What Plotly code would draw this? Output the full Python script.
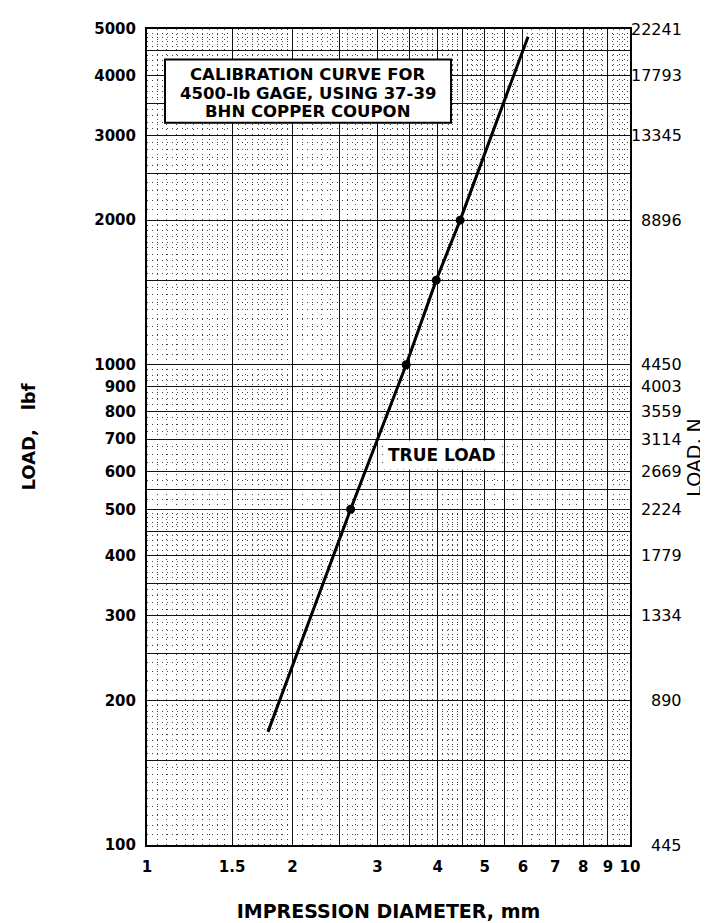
import numpy as np
import plotly.graph_objects as go

# ---- data ----
line_diameter = [1.78, 2.64, 3.44, 3.97, 4.45, 6.15]
line_load = [172, 500, 1000, 1500, 2000, 4820]
point_diameter = [2.64, 3.44, 3.97, 4.45]
point_load = [500, 1000, 1500, 2000]

x_tick_vals = [1, 1.5, 2, 2.5, 3, 3.5, 4, 4.5, 5, 5.5, 6, 7, 8, 9, 10]
x_tick_text = ["1", "1.5", "2", "", "3", "", "4", "", "5", "", "6", "7", "8", "9", "10"]
y_tick_vals = [100, 150, 200, 250, 300, 350, 400, 450, 500, 550, 600, 700, 800, 900,
               1000, 1500, 2000, 2500, 3000, 3500, 4000, 4500, 5000]
y_tick_text = ["100", "", "200", "", "300", "", "400", "", "500", "", "600", "700", "800", "900",
               "1000", "", "2000", "", "3000", "", "4000", "", "5000"]
n_tick_vals = [100, 200, 300, 400, 500, 600, 700, 800, 900, 1000, 2000, 3000, 4000, 5000]
n_tick_text = ["445", "890", "1334", "1779", "2224", "2669", "3114", "3559", "4003", "4450",
               "8896", "13345", "17793", "22241"]

title_lines = ["CALIBRATION CURVE FOR", "4500-lb GAGE, USING 37-39", "BHN COPPER COUPON"]

# ---- fine graph-paper grid positions ----
x_minor = sorted(set(np.round(np.concatenate([np.arange(1, 2, 0.05),
                                               np.arange(2, 5, 0.1),
                                               np.arange(5, 10, 0.25)]), 3)))
y_minor = sorted(set(np.round(np.concatenate([np.arange(100, 200, 5),
                                               np.arange(200, 500, 10),
                                               np.arange(500, 1000, 25),
                                               np.arange(1000, 2000, 50),
                                               np.arange(2000, 5000, 100)]), 3)))

BOLD = "DejaVu Sans"
fig = go.Figure()
fig.add_trace(go.Scatter(x=line_diameter, y=line_load, mode="lines",
                         line=dict(color="black", width=3), showlegend=False,
                         hoverinfo="skip"))
fig.add_trace(go.Scatter(x=point_diameter, y=point_load, mode="markers",
                         marker=dict(color="black", size=9), showlegend=False))

grid_major = dict(showgrid=True, gridcolor="#111111", gridwidth=1.4)
minor_common = dict(showgrid=True, gridcolor="#444444", gridwidth=1, griddash="1px,4px", ticks="")

fig.update_xaxes(type="log", range=[0, 1], tickmode="array", tickvals=x_tick_vals,
                 ticktext=x_tick_text, ticks="", ticklabelstandoff=7,
                 tickfont=dict(family=BOLD, size=15, color="black", weight="bold"),
                 showline=True, linecolor="black", linewidth=2, mirror=True,
                 zeroline=False, minor=dict(tickvals=x_minor, **minor_common),
                 title=dict(text="IMPRESSION DIAMETER, mm", standoff=30,
                            font=dict(family=BOLD, size=19, color="black", weight="bold")),
                 **grid_major)
fig.update_yaxes(type="log", range=[2, np.log10(5000)], tickmode="array",
                 tickvals=y_tick_vals, ticktext=y_tick_text, ticks="", ticklabelstandoff=6,
                 tickfont=dict(family=BOLD, size=15, color="black", weight="bold"),
                 showline=True, linecolor="black", linewidth=2, mirror=True,
                 zeroline=False, minor=dict(tickvals=y_minor, **minor_common),
                 title=dict(text="LOAD,\u00a0\u00a0\u00a0lbf", standoff=54,
                            font=dict(family=BOLD, size=18, color="black", weight="bold")),
                 **grid_major)

annotations = []
# right-hand axis in newtons
for v, t in zip(n_tick_vals, n_tick_text):
    annotations.append(dict(x=1.112, xref="paper", y=np.log10(v), yref="y", text=t,
                            showarrow=False, xanchor="right", yanchor="middle",
                            font=dict(family="DejaVu Sans", size=16, color="black")))
annotations.append(dict(x=1.16, xref="paper", y=0.475, yref="paper", text="LOAD, N",
                        textangle=-90, showarrow=False,
                        font=dict(family="DejaVu Sans", size=19, color="black")))
# boxed title
for yy, t in zip([0.9444, 0.9214, 0.8988], title_lines):
    annotations.append(dict(x=0.3333, xref="paper", y=yy, yref="paper", text=t,
                            showarrow=False, xanchor="center", yanchor="middle",
                            font=dict(family=BOLD, size=16.5, color="black", weight="bold")))
annotations.append(dict(x=0.6114, xref="paper", y=0.478, yref="paper", text="TRUE LOAD",
                        showarrow=False, bgcolor="white", borderpad=4,
                        font=dict(family=BOLD, size=17, color="black", weight="bold")))

fig.update_layout(
    width=708, height=923, autosize=False,
    margin=dict(l=139, r=86, t=14, b=82),
    paper_bgcolor="white", plot_bgcolor="white",
    annotations=annotations,
    shapes=[dict(type="rect", xref="paper", yref="paper", x0=0.0373, x1=0.6294,
                 y0=0.8851, y1=0.9625, line=dict(color="black", width=2),
                 fillcolor="white", layer="above")],
)

fig.write_html("out.html")
